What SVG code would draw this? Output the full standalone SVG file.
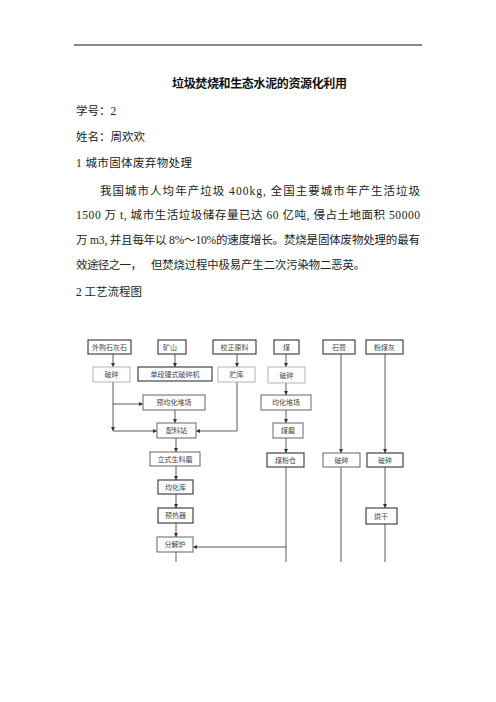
<svg xmlns="http://www.w3.org/2000/svg" width="496" height="702" viewBox="0 0 496 702">
<style>
.body{font-family:"Liberation Serif","Noto Sans CJK SC",serif;font-size:11.5px;fill:#222}
.title{font-family:"Liberation Serif","Noto Sans CJK SC",serif;font-size:12px;font-weight:bold;fill:#111}
.bx{fill:#fff;stroke:#333;stroke-width:1.1}
.lt{fill:#fff;stroke:#aaa;stroke-width:0.9}
.md{fill:#fff;stroke:#666;stroke-width:1}
.lb{font-family:"Noto Sans CJK SC",sans-serif;font-size:7px;fill:#444;text-anchor:middle}
.cn line,.cn polyline{stroke:#333;stroke-width:0.8;fill:none}
</style>
<defs>
<marker id="ah" viewBox="0 0 6 6" refX="6" refY="3" markerWidth="4" markerHeight="4" markerUnits="userSpaceOnUse" orient="auto">
<path d="M0,0 L6,3 L0,6 z" fill="#333"/>
</marker>
</defs>
<rect width="496" height="702" fill="#fff"/>
<line x1="74" y1="45" x2="422" y2="45" stroke="#111" stroke-width="1"/>
<text class="title" x="172" y="88" textLength="175" lengthAdjust="spacing">垃圾焚烧和生态水泥的资源化利用</text>
<text class="body" x="76" y="115">学号：2</text>
<text class="body" x="76" y="141">姓名：周欢欢</text>
<text class="body" x="76" y="167" textLength="116" lengthAdjust="spacing">1 城市固体废弃物处理</text>
<text class="body" x="100" y="195" textLength="320" lengthAdjust="spacing">我国城市人均年产垃圾 400kg, 全国主要城市年产生活垃圾</text>
<text class="body" x="76" y="219" textLength="344" lengthAdjust="spacing">1500 万 t, 城市生活垃圾储存量已达 60 亿吨, 侵占土地面积 50000</text>
<text class="body" x="76" y="244" textLength="344" lengthAdjust="spacing">万 m3, 并且每年以 8%～10%的速度增长。焚烧是固体废物处理的最有</text>
<text class="body" x="76" y="269" textLength="66" lengthAdjust="spacing">效途径之一，</text>
<text class="body" x="151" y="269" textLength="214" lengthAdjust="spacingAndGlyphs">但焚烧过程中极易产生二次污染物二恶英。</text>
<text class="body" x="76" y="296" textLength="66" lengthAdjust="spacing">2 工艺流程图</text>

<g id="connectors" class="cn">
<line x1="113" y1="354" x2="113" y2="367" marker-end="url(#ah)"/>
<line x1="113" y1="382" x2="113" y2="431" marker-end="url(#ah)"/>
<line x1="113" y1="431" x2="157" y2="431" marker-end="url(#ah)"/>
<line x1="113" y1="404" x2="143" y2="404" marker-end="url(#ah)"/>
<line x1="175" y1="354" x2="175" y2="367" marker-end="url(#ah)"/>
<line x1="175" y1="410" x2="175" y2="423" marker-end="url(#ah)"/>
<line x1="237" y1="354" x2="237" y2="367" marker-end="url(#ah)"/>
<polyline points="237,382 237,431 196,431" marker-end="url(#ah)"/>
<line x1="176" y1="438" x2="176" y2="452" marker-end="url(#ah)"/>
<line x1="176" y1="466" x2="176" y2="480" marker-end="url(#ah)"/>
<line x1="176" y1="494" x2="176" y2="508" marker-end="url(#ah)"/>
<line x1="176" y1="523" x2="176" y2="537" marker-end="url(#ah)"/>
<line x1="176" y1="552" x2="176" y2="562"/>
<line x1="286" y1="354" x2="286" y2="367" marker-end="url(#ah)"/>
<line x1="286" y1="383" x2="286" y2="395" marker-end="url(#ah)"/>
<line x1="286" y1="410" x2="286" y2="423" marker-end="url(#ah)"/>
<line x1="286" y1="438" x2="286" y2="453" marker-end="url(#ah)"/>
<line x1="286" y1="467" x2="286" y2="562"/>
<line x1="286" y1="547" x2="193" y2="547" marker-end="url(#ah)"/>
<line x1="341" y1="354" x2="341" y2="453" marker-end="url(#ah)"/>
<line x1="341" y1="467" x2="341" y2="562"/>
<line x1="385" y1="354" x2="385" y2="453" marker-end="url(#ah)"/>
<line x1="385" y1="467" x2="385" y2="508" marker-end="url(#ah)"/>
<line x1="385" y1="524" x2="385" y2="562"/>
</g>

<g id="n1"><rect class="bx" x="88" y="340" width="43" height="14"/><text class="lb" x="109.5" y="349.5">外购石灰石</text></g>
<g id="n2"><rect class="bx" x="158" y="340" width="28" height="14"/><text class="lb" x="163" y="349.5" style="text-anchor:start">矿山</text></g>
<g id="n3"><rect class="bx" x="213" y="340" width="43" height="14"/><text class="lb" x="234.5" y="349.5">校正原料</text></g>
<g id="n4"><rect class="bx" x="274" y="340" width="25" height="14"/><text class="lb" x="286.5" y="349.5">煤</text></g>
<g id="n5"><rect class="bx" x="323" y="340" width="32" height="14"/><text class="lb" x="339" y="349.5">石膏</text></g>
<g id="n6"><rect class="bx" x="366" y="340" width="37" height="14"/><text class="lb" x="384.5" y="349.5">粉煤灰</text></g>
<g id="n7"><rect class="lt" x="93" y="367" width="37" height="15"/><text class="lb" x="111.5" y="377">破碎</text></g>
<g id="n8"><rect class="bx" x="138" y="367" width="74" height="14"/><text class="lb" x="175" y="376.5">单段锤式破碎机</text></g>
<g id="n9"><rect class="lt" x="218" y="367" width="37" height="15"/><text class="lb" x="236.5" y="377">贮库</text></g>
<g id="n10"><rect class="lt" x="268" y="367" width="37" height="16"/><text class="lb" x="286.5" y="377.5">破碎</text></g>
<g id="n11"><rect class="md" x="143" y="395" width="62" height="15"/><text class="lb" x="174" y="405">预均化堆场</text></g>
<g id="n12"><rect class="md" x="261" y="395" width="50" height="15"/><text class="lb" x="286" y="405">均化堆场</text></g>
<g id="n13"><rect class="md" x="157" y="423" width="39" height="15"/><text class="lb" x="176.5" y="433">配料站</text></g>
<g id="n14"><rect class="md" x="273" y="423" width="30" height="15"/><text class="lb" x="288" y="433">煤磨</text></g>
<g id="n15"><rect class="md" x="150" y="452" width="50" height="14"/><text class="lb" x="175" y="461.5">立式生料磨</text></g>
<g id="n16"><rect class="bx" x="267" y="453" width="37" height="14"/><text class="lb" x="285.5" y="462.5">煤粉仓</text></g>
<g id="n17"><rect class="md" x="323" y="453" width="37" height="14"/><text class="lb" x="341.5" y="462.5">破碎</text></g>
<g id="n18"><rect class="bx" x="367" y="453" width="36" height="14"/><text class="lb" x="385" y="462.5">破碎</text></g>
<g id="n19"><rect class="bx" x="158" y="480" width="35" height="14"/><text class="lb" x="175.5" y="489.5">均化库</text></g>
<g id="n20"><rect class="bx" x="158" y="508" width="35" height="15"/><text class="lb" x="175.5" y="518">预热器</text></g>
<g id="n21"><rect class="bx" x="366" y="508" width="31" height="16"/><text class="lb" x="381" y="518.5">烘干</text></g>
<g id="n22"><rect class="md" x="157" y="537" width="36" height="15"/><text class="lb" x="175" y="547">分解炉</text></g>
</svg>
